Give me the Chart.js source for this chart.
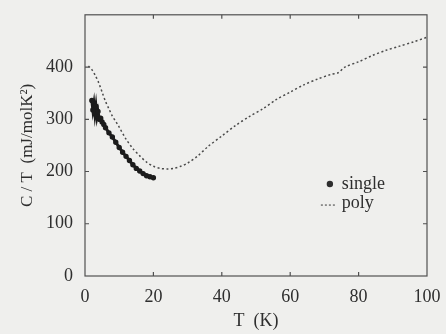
<!DOCTYPE html>
<html>
<head>
<meta charset="utf-8">
<script src="https://cdn.jsdelivr.net/npm/chart.js@4.4.0/dist/chart.umd.min.js"></script>
<style>
  html, body { margin: 0; padding: 0; background: #efefed; }
  #wrap { width: 446px; height: 334px; }
</style>
</head>
<body>
<div id="wrap"><canvas id="c" width="446" height="334"></canvas></div>
<script>
// values
const polyT = [1, 2, 3, 4, 5, 6, 7, 8, 9, 10, 12, 14, 16, 18, 20, 22, 24, 26, 28, 30, 33, 36, 40, 44, 48, 52, 56, 60, 64, 68, 72, 74, 76, 80, 84, 88, 92, 96, 100];
const polyC = [402, 395, 384, 370, 352, 334, 320, 306, 296, 285, 262, 244, 230, 218, 210, 206, 205, 206, 210, 216, 230, 248, 268, 288, 305, 320, 338, 352, 366, 377, 386, 389, 400, 410, 422, 432, 440, 448, 457];

const singleT = [2.0, 2.3, 2.6, 2.9, 3.2, 3.5, 3.8, 4.2, 4.6, 5, 5.5, 6, 7, 8, 9, 10, 11, 12, 13, 14, 15, 16, 17, 18, 19, 20];
const singleC = [336, 318, 330, 310, 325, 305, 315, 300, 302, 295, 290, 284, 274, 266, 256, 246, 237, 229, 221, 213, 206, 201, 196, 192, 190, 188];

const xTicks = [0, 20, 40, 60, 80, 100];
const yTicks = [0, 100, 200, 300, 400];
const legendLabels = ['single', 'poly'];

const serif = '"Liberation Serif", "DejaVu Serif", serif';
const ink = '#2e2e2e';

const toXY = (xs, ys) => xs.map((x, i) => ({ x: x, y: ys[i] }));

// frame + inward ticks on all four sides
const framePlugin = {
  id: 'frame',
  afterDatasetsDraw(chart) {
    const { ctx, chartArea: a, scales: { x, y } } = chart;
    ctx.save();
    ctx.strokeStyle = '#505050';
    ctx.lineWidth = 1.2;
    ctx.strokeRect(a.left, a.top, a.right - a.left, a.bottom - a.top);
    const len = 4;
    ctx.beginPath();
    xTicks.slice(1, -1).forEach(v => {
      const px = x.getPixelForValue(v);
      ctx.moveTo(px, a.bottom); ctx.lineTo(px, a.bottom - len);
      ctx.moveTo(px, a.top); ctx.lineTo(px, a.top + len);
    });
    yTicks.slice(1).forEach(v => {
      const py = y.getPixelForValue(v);
      ctx.moveTo(a.left, py); ctx.lineTo(a.left + len, py);
      ctx.moveTo(a.right, py); ctx.lineTo(a.right - len, py);
    });
    ctx.stroke();
    ctx.restore();
  }
};

// legend sitting inside the plot, lower right
const legendPlugin = {
  id: 'inLegend',
  afterDraw(chart) {
    const { ctx, scales: { x, y } } = chart;
    const sx = x.getPixelForValue(71.6);
    const sy = y.getPixelForValue(176);
    ctx.save();
    ctx.fillStyle = ink;
    ctx.beginPath();
    ctx.arc(sx, sy, 3.2, 0, Math.PI * 2);
    ctx.fill();
    ctx.strokeStyle = '#555';
    ctx.lineWidth = 1.2;
    ctx.setLineDash([2, 2]);
    ctx.beginPath();
    ctx.moveTo(sx - 9, sy + 21);
    ctx.lineTo(sx + 7, sy + 21);
    ctx.stroke();
    ctx.font = '18px ' + serif;
    ctx.textBaseline = 'middle';
    ctx.fillText(legendLabels[0], sx + 12, sy);
    ctx.fillText(legendLabels[1], sx + 12, sy + 19);
    ctx.restore();
  }
};

new Chart(document.getElementById('c'), {
  type: 'scatter',
  data: {
    datasets: [
      {
        label: legendLabels[0],
        data: toXY(singleT, singleC),
        showLine: true,
        borderColor: '#1c1c1c',
        backgroundColor: '#1c1c1c',
        borderWidth: 3,
        pointRadius: 1.2,
        tension: 0
      },
      {
        label: legendLabels[1],
        data: toXY(polyT, polyC),
        showLine: true,
        borderColor: '#4a4a4a',
        borderWidth: 1.5,
        borderDash: [2, 2.5],
        pointRadius: 0,
        tension: 0.3
      }
    ]
  },
  options: {
    responsive: false,
    animation: false,
    layout: { padding: { top: 10, right: 19, left: 0, bottom: 0 } },
    plugins: { legend: { display: false }, tooltip: { enabled: false } },
    scales: {
      x: {
        type: 'linear',
        min: 0, max: 100,
        afterBuildTicks: s => { s.ticks = xTicks.map(v => ({ value: v })); },
        afterFit: s => { s.height = 58; },
        grid: { display: false },
        border: { display: false },
        ticks: { color: ink, padding: 2, font: { family: serif, size: 18 } },
        title: {
          display: true,
          text: 'T  (K)',
          color: ink,
          padding: { top: 0, bottom: 2 },
          font: { family: serif, size: 18 }
        }
      },
      y: {
        type: 'linear',
        min: 0, max: 500,
        afterBuildTicks: s => { s.ticks = yTicks.map(v => ({ value: v })); },
        afterFit: s => { s.width = 85; },
        grid: { display: false },
        border: { display: false },
        ticks: { color: ink, padding: 4, font: { family: serif, size: 18 } },
        title: {
          display: true,
          text: 'C / T  (mJ/molK²)',
          color: ink,
          padding: { top: 17, bottom: 0 },
          font: { family: serif, size: 17 }
        }
      }
    }
  },
  plugins: [framePlugin, legendPlugin]
});
</script>
</body>
</html>
